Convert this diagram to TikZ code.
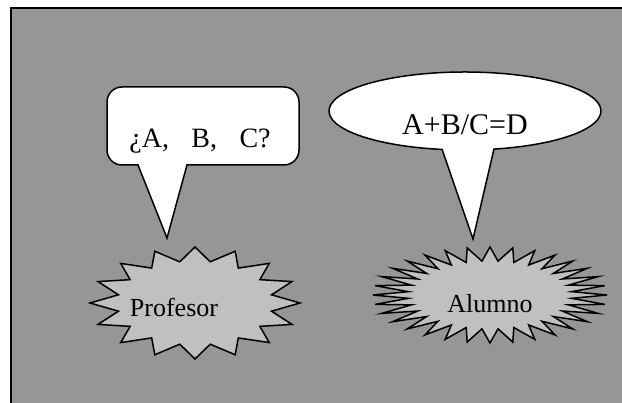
\documentclass[tikz,border=0pt]{standalone}
\usepackage{fontspec}
\setmainfont{Liberation Serif}
\usetikzlibrary{positioning,calc}

\definecolor{fondo}{RGB}{150,150,150}
\definecolor{plata}{RGB}{192,192,192}

\tikzset{
    marco/.style={fill=fondo, draw=black, line width=2pt},
    globo/.style={fill=white, draw=black, line width=1.5pt, line join=miter},
    estrella/.style={fill=plata, draw=black, line width=1.5pt, line join=miter},
    texto/.style={inner sep=0pt, anchor=base, font=\fontsize{27}{32}\selectfont},
}

\begin{document}
\begin{tikzpicture}[x=1pt, y=-1pt]
    \useasboundingbox (0,0) rectangle (622,403);
    % Fondo
    \draw[marco] (11,8) rectangle (640,420);

    % Pregunta
    \coordinate (pregunta punta) at (167,238);
    \draw[globo] (pregunta punta) -- (187,165) -- (284,165) arc[start angle=90, end angle=0, radius=15]
        -- (299,102) arc[start angle=0, end angle=-90, radius=15]
        -- (122,87) arc[start angle=-90, end angle=-180, radius=15]
        -- (107,150) arc[start angle=180, end angle=90, radius=15]
        -- (138,165) -- cycle;
    \node[texto, font=\fontsize{28}{33}\selectfont] (pregunta) at (200,148) {¿A,\hspace{0.8em}B,\hspace{0.8em}C?};

    % Respuesta
    \coordinate (respuesta centro) at (465,111);
    \coordinate (respuesta punta) at (473,239);
    \draw[globo] (respuesta punta) -- ($(respuesta centro)+(99.7:136 and 39)$)
        arc[start angle=99.7, end angle=437.7, x radius=136, y radius=39] -- cycle;
    \node[texto, font=\fontsize{30}{36}\selectfont] (respuesta) at (465,135) {A+B/C=D};

    % Profesor
    \begin{scope}[shift={(195,303)}]
        \draw[estrella] (0:105 and 56) \foreach \k in {1,...,15} { -- ({\k*22.5-11.25}:78 and 42) -- ({\k*22.5}:105 and 56) }
            -- (348.75:78 and 42) -- cycle;
    \end{scope}
    \node[texto, font=\fontsize{26}{31}\selectfont] (profesor) at (174,317) {Profesor};

    % Alumno
    \begin{scope}[shift={(490,295)}]
        \draw[estrella] (0:117 and 48) \foreach \k in {1,...,31} { -- ({\k*11.25-5.625}:82 and 34) -- ({\k*11.25}:117 and 48) }
            -- (354.375:82 and 34) -- cycle;
    \end{scope}
    \node[texto, font=\fontsize{26}{31}\selectfont] (alumno) at (490,313) {Alumno};
\end{tikzpicture}
\end{document}
